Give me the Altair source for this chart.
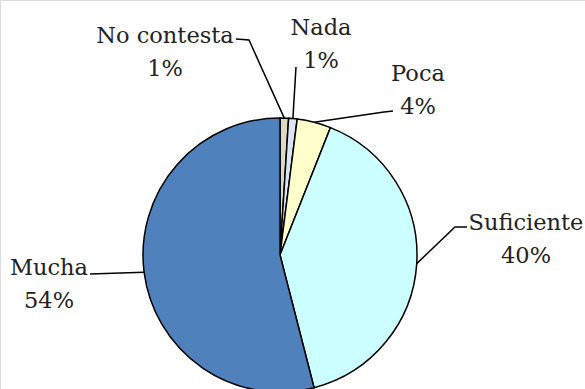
import math
import altair as alt
import pandas as pd

# ---- data ----
categories = ["No contesta", "Nada", "Poca", "Suficiente", "Mucha"]
values = [1, 1, 4, 40, 54]
colors = ["#DDD9C3", "#DCE6F2", "#FFFFCC", "#CCFFFF", "#4F81BD"]

# ---- layout (pixel space) ----
W, H = 585, 389
CX, CY, R = 280, 255, 137
FONT = "DejaVu Serif"
FS = 22.5

# label anchor (text centre x, baseline of first line y) and leader elbows
label_pos = {
    "No contesta": (165, 43),
    "Nada": (321, 35),
    "Poca": (418, 81),
    "Suficiente": (526, 230),
    "Mucha": (49, 275),
}
leader_elbows = {
    "No contesta": [(236, 39), (249, 40)],
    "Nada": [(296, 67)],
    "Poca": [(393, 111), (384, 112)],
    "Suficiente": [(467, 227), (455, 227)],
    "Mucha": [(90, 274)],
}
LINE_GAP = 33

total = sum(values)
pie_df = pd.DataFrame({"cat": categories, "val": values, "ord": list(range(len(values)))})

# leader lines: elbows then slice mid-point on the rim
rows = []
cum = 0
for c, v in zip(categories, values):
    mid = (cum + v / 2) / total * 2 * math.pi
    cum += v
    ax = CX + R * math.sin(mid)
    ay = CY - R * math.cos(mid)
    pts = leader_elbows[c] + [(ax, ay)]
    for i, (px, py) in enumerate(pts):
        rows.append({"cat": c, "i": i, "x": px, "y": py})
lead_df = pd.DataFrame(rows)

txt_rows = []
for c, v in zip(categories, values):
    lx, ly = label_pos[c]
    txt_rows.append({"t": c, "x": lx, "y": ly})
    txt_rows.append({"t": f"{round(v / total * 100)}%", "x": lx, "y": ly + LINE_GAP})
txt_df = pd.DataFrame(txt_rows)

xs = alt.Scale(domain=[0, W], range=[0, W])
ys = alt.Scale(domain=[0, H], range=[0, H])

pie = alt.Chart(pie_df).mark_arc(radius=R, stroke="black", strokeWidth=1.5).encode(
    theta=alt.Theta("val:Q", stack=True),
    order=alt.Order("ord:Q"),
    color=alt.Color("cat:N", scale=alt.Scale(domain=categories, range=colors), legend=None),
    x=alt.value(CX),
    y=alt.value(CY),
)

leaders = alt.Chart(lead_df).mark_line(color="black", strokeWidth=1.5).encode(
    x=alt.X("x:Q", scale=xs, axis=None),
    y=alt.Y("y:Q", scale=ys, axis=None),
    detail="cat:N",
    order="i:Q",
)

labels = alt.Chart(txt_df).mark_text(
    font=FONT, fontSize=FS, color="#222222", align="center", baseline="alphabetic"
).encode(
    x=alt.X("x:Q", scale=xs, axis=None),
    y=alt.Y("y:Q", scale=ys, axis=None),
    text="t:N",
)

chart = (
    alt.layer(pie, leaders, labels)
    .properties(width=W, height=H, padding=0, autosize=alt.AutoSizeParams(type="none"))
    .configure_view(stroke=None)
    .configure(background="white")
)

chart.save("out.html", embed_options={"renderer": "svg", "actions": False})
